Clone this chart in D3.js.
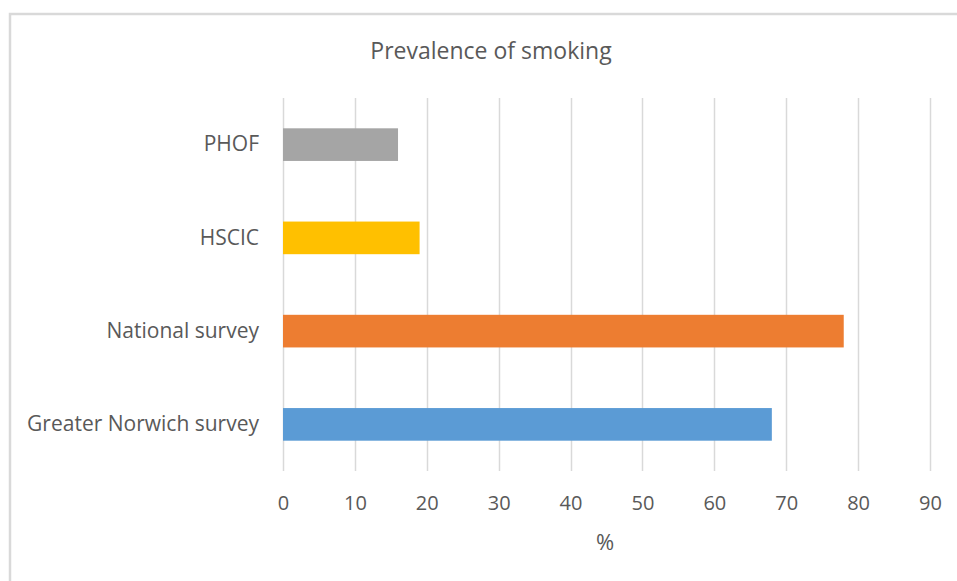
<!DOCTYPE html>
<html>
<head>
<meta charset="utf-8">
<script src="https://cdn.jsdelivr.net/npm/d3@7"></script>
<style>
  html, body { margin: 0; padding: 0; background: #ffffff; }
  svg { display: block; }
  text { font-family: "Open Sans", "Liberation Sans", sans-serif; fill: #595959; }
</style>
</head>
<body>
<svg id="chart" width="957" height="581"></svg>
<script>
// Prevalence of smoking by source (%)
const categories = ["PHOF", "HSCIC", "National survey", "Greater Norwich survey"];
const values = [16, 19, 78, 68];
const colors = ["#a5a5a5", "#ffc000", "#ed7d31", "#5b9bd5"];
const tickValues = [0, 10, 20, 30, 40, 50, 60, 70, 80, 90];

const svg = d3.select("#chart");
const W = 957, H = 581;

// chart frame
svg.append("rect")
  .attr("x", 10).attr("y", 14)
  .attr("width", W + 20).attr("height", H + 20)
  .attr("fill", "#ffffff")
  .attr("stroke", "#d9d9d9").attr("stroke-width", 2.5);

const plot = { left: 283, right: 930, top: 98, bottom: 471 };

const x = d3.scaleLinear().domain([0, 90]).range([plot.left, plot.right]);
const y = d3.scaleBand().domain(categories).range([plot.top, plot.bottom])
  .paddingInner(0.65).paddingOuter(0.325);

// vertical gridlines
svg.append("g")
  .selectAll("line")
  .data(tickValues)
  .join("line")
  .attr("x1", d => Math.round(x(d)) + 0.5).attr("x2", d => Math.round(x(d)) + 0.5)
  .attr("y1", plot.top).attr("y2", plot.bottom)
  .attr("stroke", "#d9d9d9").attr("stroke-width", 1.5);

// bars
svg.append("g")
  .selectAll("rect")
  .data(categories)
  .join("rect")
  .attr("x", x(0))
  .attr("y", d => y(d))
  .attr("width", (d, i) => x(values[i]) - x(0))
  .attr("height", y.bandwidth())
  .attr("fill", (d, i) => colors[i]);

// x axis tick labels
const xAxis = d3.axisBottom(x).tickValues(tickValues).tickSize(0).tickPadding(0);
const gx = svg.append("g").attr("transform", `translate(0, 510)`).call(xAxis);
gx.select(".domain").remove();
gx.selectAll("text")
  .attr("dy", "0")
  .style("font-size", "20px")
  .style("fill", "#595959")
  .style("font-family", "\"Open Sans\", sans-serif");

// y axis category labels
const yAxis = d3.axisLeft(y).tickSize(0).tickPadding(24);
const gy = svg.append("g").attr("transform", `translate(${plot.left}, 0)`).call(yAxis);
gy.select(".domain").remove();
gy.selectAll("text")
  .attr("dy", "0.32em")
  .style("font-size", "21px")
  .style("fill", "#595959")
  .style("font-family", "\"Open Sans\", sans-serif");

// title
svg.append("text")
  .attr("x", 491).attr("y", 59)
  .attr("text-anchor", "middle")
  .style("font-size", "23px")
  .text("Prevalence of smoking");

// x axis title
svg.append("text")
  .attr("x", 605).attr("y", 550)
  .attr("text-anchor", "middle")
  .style("font-size", "22px")
  .text("%");
</script>
</body>
</html>
